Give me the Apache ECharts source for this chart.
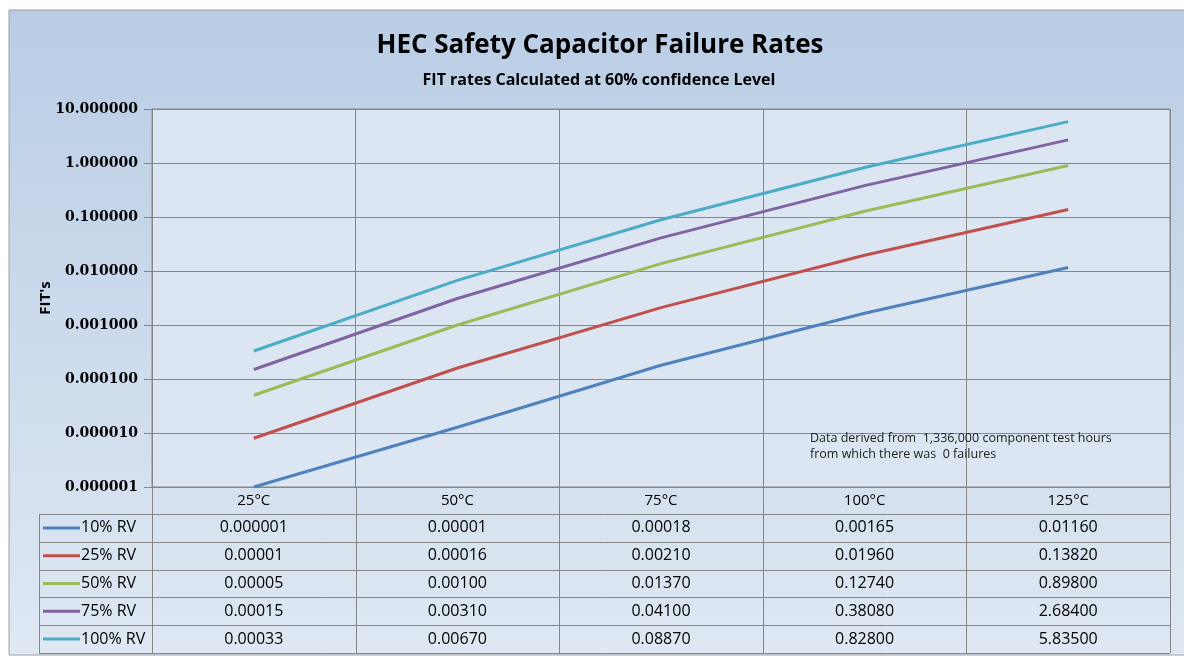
<!DOCTYPE html>
<html>
<head>
<meta charset="utf-8">
<script src="https://cdn.jsdelivr.net/npm/echarts@6/dist/echarts.min.js"></script>
<style>
html,body{margin:0;padding:0;background:#fff;}
#main{width:1184px;height:657px;}
</style>
</head>
<body>
<div id="main"></div>
<script>
var temps=['25°C','50°C','75°C','100°C','125°C'];
var names=['10% RV','25% RV','50% RV','75% RV','100% RV'];
var rv10=[0.000001,0.0000128,0.00018,0.00165,0.0116];
var rv25=[0.000008,0.00016,0.0021,0.0196,0.1382];
var rv50=[0.00005,0.001,0.0137,0.1274,0.898];
var rv75=[0.00015,0.0031,0.041,0.3808,2.684];
var rv100=[0.00033,0.0067,0.0887,0.828,5.835];
var rows=[rv10,rv25,rv50,rv75,rv100];
var colors=['#4f81bd','#c0504d','#9bbb59','#8064a2','#4bacc6'];

function fmt(v){
    return v>=0.000005?v.toFixed(5):v.toFixed(6);
}

var Myecharts=echarts.init(document.getElementById('main'));
var series=[];
for(var i=0;i<rows.length;i++){
    series.push({
        name:names[i],
        type:'line',
        data:rows[i],
        symbol:'none',
        smooth:false,
        lineStyle:{color:colors[i],width:3},
        itemStyle:{color:colors[i]},
        z:5
    });
}
var option={
    backgroundColor:'#fff',
    animation:false,
    title:[{
        text:'HEC Safety Capacitor Failure Rates',
        left:595,
        top:28,
        textAlign:'center',
        textStyle:{fontFamily:'Open Sans',fontWeight:'bold',fontSize:26,color:'#000'}
    },{
        text:'FIT rates Calculated at 60% confidence Level',
        left:594,
        top:67,
        textAlign:'center',
        textStyle:{fontFamily:'Open Sans',fontWeight:'bold',fontSize:16,color:'#000'}
    }],
    grid:{
        left:152,right:14,top:109,bottom:170,
        show:true,
        backgroundColor:'#dce6f2',
        borderColor:'#868686',
        borderWidth:1
    },
    xAxis:{
        type:'category',
        data:temps,
        boundaryGap:true,
        axisLine:{show:true,lineStyle:{color:'#868686'}},
        axisTick:{show:false},
        axisLabel:{color:'#000',fontFamily:'Open Sans',fontSize:15,margin:6},
        splitLine:{show:true,interval:0,lineStyle:{color:'#868686',width:1}}
    },
    yAxis:{
        type:'log',
        logBase:10,
        min:0.000001,
        max:10,
        splitNumber:7,
        name:"FIT's",
        nameLocation:'middle',
        nameGap:99,
        nameMoveOverlap:false,
        nameTextStyle:{fontFamily:'Open Sans',fontWeight:'bold',fontSize:15,color:'#000'},
        axisLine:{show:true,lineStyle:{color:'#868686'}},
        axisTick:{show:true,length:8,lineStyle:{color:'#868686'}},
        axisLabel:{
            color:'#000',fontFamily:'DejaVu Serif',fontWeight:'bold',fontSize:14,margin:14,
            formatter:function(v){return v.toFixed(6);}
        },
        splitLine:{show:true,lineStyle:{color:'#868686',width:1}}
    },
    series:series
};
Myecharts.setOption(option);

// data table under the plot, columns taken from the category axis
var graphic=[];
graphic.push({
    type:'rect',z:-100,silent:true,
    shape:{x:9,y:10,width:1180,height:645},
    style:{
        fill:new echarts.graphic.LinearGradient(0,0,0,1,[
            {offset:0,color:'#b9cde5'},
            {offset:1,color:'#dfe8f3'}
        ]),
        stroke:'#a0a0a0',lineWidth:1
    }
});
var x0=Myecharts.convertToPixel({xAxisIndex:0},temps[0]);
var x1=Myecharts.convertToPixel({xAxisIndex:0},temps[1]);
var cw=x1-x0;
var tabL=x0-cw/2, tabR=tabL+cw*temps.length;
var tabTop=487, headH=27, rowH=27.8, keyLeft=39;
var tabBot=tabTop+headH+rowH*rows.length;
var gridLine={stroke:'#868686',lineWidth:1};
// vertical lines
for(var c=0;c<=temps.length;c++){
    var xx=Math.round(tabL+cw*c)+0.5;
    graphic.push({type:'line',silent:true,shape:{x1:xx,y1:tabTop,x2:xx,y2:tabBot},style:gridLine});
}
graphic.push({type:'line',silent:true,shape:{x1:keyLeft+0.5,y1:tabTop+headH,x2:keyLeft+0.5,y2:tabBot},style:gridLine});
// horizontal lines
for(var r=0;r<=rows.length;r++){
    var yy=Math.round(tabTop+headH+rowH*r)+0.5;
    graphic.push({type:'line',silent:true,shape:{x1:keyLeft,y1:yy,x2:tabR,y2:yy},style:gridLine});
}
// rows
for(var r=0;r<rows.length;r++){
    var cy=tabTop+headH+rowH*r+rowH/2;
    graphic.push({type:'line',silent:true,shape:{x1:43,y1:cy,x2:80,y2:cy},style:{stroke:colors[r],lineWidth:3}});
    graphic.push({type:'text',silent:true,x:81,y:cy,style:{
        text:names[r],textAlign:'left',textVerticalAlign:'middle',
        font:'16px "Open Sans"',fill:'#000'}});
    for(var c=0;c<temps.length;c++){
        var px=Myecharts.convertToPixel({xAxisIndex:0},temps[c]);
        graphic.push({type:'text',silent:true,x:px,y:cy,style:{
            text:fmt(rows[r][c]),textAlign:'center',textVerticalAlign:'middle',
            font:'16px "Open Sans"',fill:'#000'}});
    }
}
// note
graphic.push({type:'text',silent:true,x:810,y:430,style:{
    text:'Data derived from  1,336,000 component test hours\nfrom which there was  0 failures',
    font:'12.5px "Open Sans"',fill:'#222',lineHeight:16}});
Myecharts.setOption({graphic:graphic});
</script>
</body>
</html>
